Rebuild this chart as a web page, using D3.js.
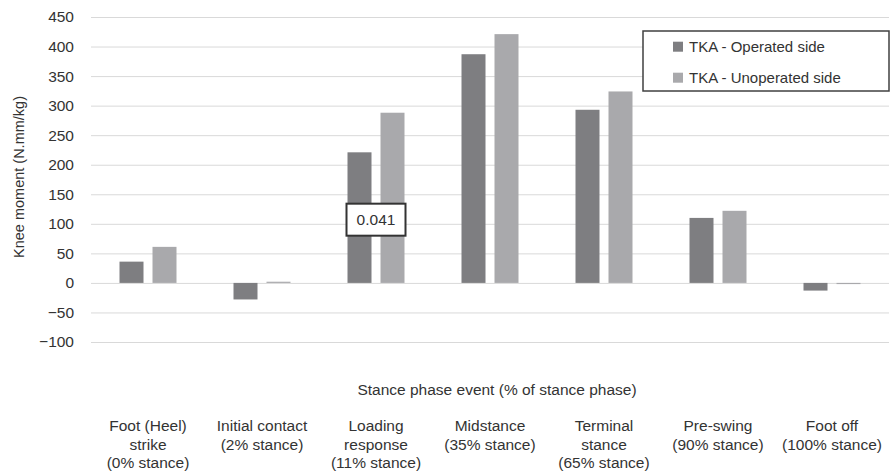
<!DOCTYPE html>
<html>
<head>
<meta charset="utf-8">
<script src="https://cdn.jsdelivr.net/npm/d3@7"></script>
<style>
  html, body { margin: 0; padding: 0; background: #fff; }
  text { font-family: "Liberation Sans", Arial, sans-serif; fill: #333; }
</style>
</head>
<body>
<svg class="chart1"></svg>
<script>
// category labels, one line per entry
const categories = [
  "Foot (Heel)|strike|(0% stance)",
  "Initial contact|(2% stance)",
  "Loading|response|(11% stance)",
  "Midstance|(35% stance)",
  "Terminal|stance|(65% stance)",
  "Pre-swing|(90% stance)",
  "Foot off|(100% stance)"
];
const series = ["TKA - Operated side", "TKA - Unoperated side"];
const operated = [36, -28, 221, 387, 293, 110, -13];
const unoperated = [61, 2, 288, 421, 324, 122, -2];
const yTicks = [-100, -50, 0, 50, 100, 150, 200, 250, 300, 350, 400, 450];
const annotations = [{ category: categories[2], value: 107, label: "0.041" }];
const colors = ["#7e7e81", "#a9a9ac"];

const width = 891;
const height = 476;
const plotLeft = 91, plotRight = 889, plotTop = 17, plotBottom = 342;

const svg = d3.select('.chart1')
  .attr('width', width)
  .attr('height', height);

const x0 = d3.scaleBand()
  .domain(categories)
  .range([plotLeft, plotRight])
  .padding(0);
const bw = x0.bandwidth();
const x1 = d3.scaleBand()
  .domain(series)
  .range([bw * 0.25, bw * 0.75])
  .paddingInner(0.2727);
const y = d3.scaleLinear()
  .domain([-100, 450])
  .range([plotBottom, plotTop]);

// gridlines + y labels
const yAxis = svg.append('g')
  .attr('transform', `translate(${plotLeft}, 0)`)
  .call(d3.axisLeft(y).tickValues(yTicks).tickSize(-(plotRight - plotLeft)).tickPadding(17));
yAxis.select('.domain').remove();
yAxis.selectAll('.tick line').attr('stroke', '#d9d9d9');
yAxis.selectAll('.tick text')
  .style('font-size', '15.5px')
  .attr('fill', '#404040');

// bars
const rows = categories.map((c, i) => ({ cat: c, vals: [operated[i], unoperated[i]] }));
const groups = svg.selectAll('.grp')
  .data(rows)
  .enter().append('g')
  .attr('class', 'grp')
  .attr('transform', d => `translate(${x0(d.cat)}, 0)`);
groups.selectAll('rect')
  .data(d => d.vals.map((v, k) => ({ s: series[k], v, k })))
  .enter().append('rect')
  .attr('x', d => x1(d.s))
  .attr('width', x1.bandwidth())
  .attr('y', d => y(Math.max(0, d.v)))
  .attr('height', d => Math.abs(y(d.v) - y(0)))
  .attr('fill', d => colors[d.k]);

// annotation box
annotations.forEach(a => {
  const cx = x0(a.category) + bw / 2;
  const cy = y(a.value);
  svg.append('rect')
    .attr('x', cx - 29.5).attr('y', cy - 16)
    .attr('width', 59).attr('height', 32)
    .attr('fill', '#fff').attr('stroke', '#333').attr('stroke-width', 2);
  svg.append('text')
    .attr('x', cx).attr('y', cy)
    .attr('dy', '0.36em')
    .attr('text-anchor', 'middle')
    .style('font-size', '15.5px')
    .text(a.label);
});

// y title
svg.append('text')
  .attr('transform', 'translate(24, 177) rotate(-90)')
  .attr('text-anchor', 'middle')
  .style('font-size', '14.5px')
  .text('Knee moment (N.mm/kg)');

// x title
svg.append('text')
  .attr('x', 497)
  .attr('y', 395)
  .attr('text-anchor', 'middle')
  .style('font-size', '15.5px')
  .text('Stance phase event (% of stance phase)');

// category labels
const labels = svg.selectAll('.cat')
  .data(categories)
  .enter().append('text')
  .attr('class', 'cat')
  .attr('text-anchor', 'middle')
  .style('font-size', '15.5px');
labels.selectAll('tspan')
  .data(d => d.split('|').map(t => ({ t, c: d })))
  .enter().append('tspan')
  .attr('x', d => x0(d.c) + bw / 2)
  .attr('y', (d, i) => 431 + i * 18.5)
  .text(d => d.t);

// legend
const lg = svg.append('g');
lg.append('rect')
  .attr('x', 643).attr('y', 31)
  .attr('width', 246).attr('height', 60)
  .attr('fill', '#fff').attr('stroke', '#404040').attr('stroke-width', 1.5);
series.forEach((s, i) => {
  lg.append('rect')
    .attr('x', 673).attr('y', 41.7 + i * 31)
    .attr('width', 10).attr('height', 10)
    .attr('fill', colors[i]);
  lg.append('text')
    .attr('x', 689).attr('y', 52.3 + i * 30.5)
    .style('font-size', '15px')
    .text(s);
});
</script>
</body>
</html>
